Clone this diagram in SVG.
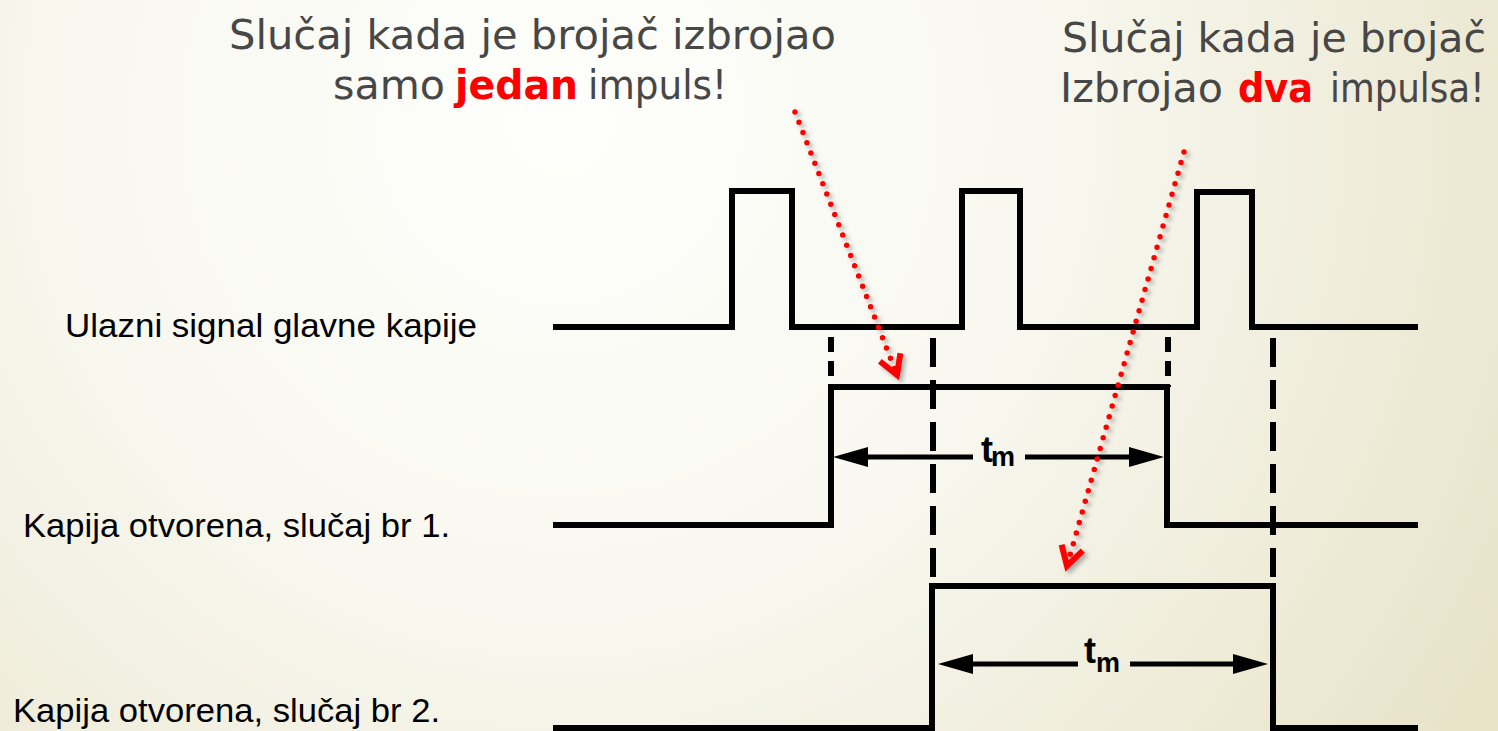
<svg xmlns="http://www.w3.org/2000/svg" width="1498" height="731" viewBox="0 0 1498 731">
  <defs>
    <radialGradient id="bg" gradientUnits="userSpaceOnUse" cx="560" cy="120" r="1080">
      <stop offset="0" stop-color="#fefefc"/>
      <stop offset="0.45" stop-color="#f8f8f0"/>
      <stop offset="1" stop-color="#e8e3c9"/>
    </radialGradient>
    <marker id="dimHead" markerUnits="userSpaceOnUse" orient="auto" refX="0" refY="0" markerWidth="60" markerHeight="30" viewBox="-30 -15 60 30" overflow="visible">
      <path d="M10,0 L-25,-10 L-25,10 Z" fill="#000"/>
    </marker>
    <marker id="redHead" markerUnits="userSpaceOnUse" orient="auto" refX="0" refY="0" markerWidth="60" markerHeight="60" viewBox="-30 -30 60 60" overflow="visible">
      <path d="M-19,-11 L0,0 L-19,11" fill="none" stroke="#ff0000" stroke-width="6" stroke-linejoin="miter"/>
    </marker>
    <filter id="shadow" x="-20%" y="-20%" width="140%" height="140%">
      <feDropShadow dx="3" dy="3" stdDeviation="2" flood-color="#555" flood-opacity="0.45"/>
    </filter>
  </defs>
  <style>
    .title { font-family: "DejaVu Sans", "Liberation Sans", sans-serif; font-size: 41px; fill: #474747; }
    .hl { font-family: "DejaVu Sans", "Liberation Sans", sans-serif; font-size: 41px; font-weight: bold; fill: #ff0000; }
    .lbl { font-family: "Liberation Sans", Arial, sans-serif; font-size: 34px; fill: #000; }
    .sig { fill: none; stroke: #000; stroke-width: 6; stroke-linejoin: miter; stroke-linecap: butt; }
    .guide { fill: none; stroke: #000; stroke-width: 6; stroke-dasharray: 29 13; }
    .dim { fill: none; stroke: #000; stroke-width: 5; marker-end: url(#dimHead); }
    .tm { font-family: "Liberation Sans", Arial, sans-serif; font-weight: bold; fill: #000; }
    .dots { fill: none; stroke: #ff0000; stroke-width: 5.5; stroke-linecap: round; stroke-dasharray: 0 11; }
  </style>

  <rect x="0" y="0" width="1498" height="731" fill="url(#bg)"/>

  <g id="title-left">
    <text class="title" x="229" y="49" textLength="607" lengthAdjust="spacingAndGlyphs">Slučaj kada je brojač izbrojao</text>
    <text class="title" x="333" y="99" textLength="112" lengthAdjust="spacingAndGlyphs">samo</text>
    <text class="hl" x="455" y="99" textLength="123" lengthAdjust="spacingAndGlyphs">jedan</text>
    <text class="title" x="588" y="99" textLength="139" lengthAdjust="spacingAndGlyphs">impuls!</text>
  </g>

  <g id="title-right">
    <text class="title" x="1062" y="52" textLength="424" lengthAdjust="spacingAndGlyphs">Slučaj kada je brojač</text>
    <text class="title" x="1060" y="102" textLength="163" lengthAdjust="spacingAndGlyphs">Izbrojao</text>
    <text class="hl" x="1238" y="102" textLength="75" lengthAdjust="spacingAndGlyphs">dva</text>
    <text class="title" transform="translate(1330,102) scale(0.87,1)" x="0" y="0">impulsa!</text>
  </g>

  <g id="label-input">
    <text class="lbl" x="65" y="337" textLength="412" lengthAdjust="spacingAndGlyphs">Ulazni signal glavne kapije</text>
  </g>
  <g id="label-case1">
    <text class="lbl" x="23" y="537" textLength="427" lengthAdjust="spacingAndGlyphs">Kapija otvorena, slučaj br 1.</text>
  </g>
  <g id="label-case2">
    <text class="lbl" x="13" y="722" textLength="427" lengthAdjust="spacingAndGlyphs">Kapija otvorena, slučaj br 2.</text>
  </g>

  <g id="signal-input">
    <path class="sig" d="M553,327 H732 V191 H792 V327 H962 V191 H1020 V327 H1197 V192 H1252 V327 H1418"/>
  </g>

  <g id="signal-gate1">
    <path class="sig" d="M553,525 H831 V387 H1167 V525 H1418"/>
  </g>

  <g id="signal-gate2">
    <path class="sig" d="M553,728 H932 V586 H1273 V728 H1418"/>
  </g>

  <g id="dim-tm1">
    <line class="dim" x1="973" y1="457" x2="843" y2="457"/>
    <line class="dim" x1="1025" y1="457" x2="1154" y2="457"/>
    <text class="tm" x="981" y="462" font-size="36">t</text>
    <text class="tm" x="991" y="466" font-size="27">m</text>
  </g>

  <g id="dim-tm2">
    <line class="dim" x1="1078" y1="664" x2="948" y2="664"/>
    <line class="dim" x1="1130" y1="664" x2="1258" y2="664"/>
    <text class="tm" x="1084" y="663" font-size="36">t</text>
    <text class="tm" x="1096" y="672" font-size="27">m</text>
  </g>

  <g id="connectors">
    <line class="guide" x1="933" y1="338" x2="933" y2="586"/>
    <line class="guide" x1="1273" y1="338" x2="1273" y2="586"/>
    <line class="guide" x1="831" y1="337" x2="831" y2="387" style="stroke-dasharray:15 9"/>
    <line class="guide" x1="1168" y1="337" x2="1168" y2="387" style="stroke-dasharray:15 9"/>
    <g filter="url(#shadow)">
      <line class="dots" x1="795" y1="112" x2="897" y2="375" marker-end="url(#redHead)"/>
      <line class="dots" x1="1184" y1="152" x2="1067" y2="566" marker-end="url(#redHead)"/>
    </g>
  </g>
</svg>
